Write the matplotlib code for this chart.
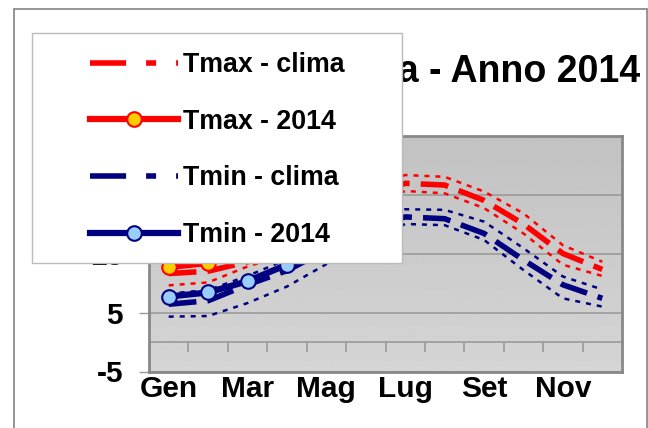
import numpy as np
import matplotlib
matplotlib.use("Agg")
import matplotlib.pyplot as plt
from matplotlib.lines import Line2D
from matplotlib.patches import Rectangle

plt.rcParams['font.family'] = ['Liberation Sans', 'DejaVu Sans']
plt.rcParams['font.weight'] = 'bold'
plt.rcParams['lines.scale_dashes'] = False

# ---------------- data ----------------
months = ['Gen', 'Feb', 'Mar', 'Apr', 'Mag', 'Giu', 'Lug', 'Ago', 'Set', 'Ott', 'Nov', 'Dic']
tick_months = ['Gen', 'Mar', 'Mag', 'Lug', 'Set', 'Nov']

tmax_clima = [11.6, 12.0, 13.6, 16.6, 20.6, 24.5, 26.9, 26.6, 24.0, 20.0, 15.0, 12.3]
tmax_clima_hi = [13.8, 14.2, 15.6, 18.5, 22.5, 26.2, 28.3, 28.0, 25.5, 21.8, 16.4, 13.6]
tmax_clima_lo = [9.6, 10.1, 12.8, 14.8, 18.6, 22.6, 25.6, 25.2, 22.7, 18.4, 13.1, 11.2]
tmax_2014 = [12.7, 13.4, 15.5, 17.8, 21.0]

tmin_clima = [6.4, 7.0, 9.7, 12.1, 15.6, 19.2, 21.2, 20.9, 18.4, 13.9, 9.7, 7.4]
tmin_clima_hi = [8.2, 8.8, 11.2, 14.0, 17.5, 20.8, 22.5, 22.4, 20.4, 15.9, 11.1, 8.9]
tmin_clima_lo = [4.3, 4.4, 6.6, 9.4, 13.2, 17.0, 20.0, 19.8, 17.3, 12.2, 7.4, 6.0]
tmin_2014 = [7.7, 8.4, 10.3, 13.1, 15.4]

yticks = [-5, 5, 15, 25, 35]
labels = ['Tmax - clima', 'Tmax - 2014', 'Tmin - clima', 'Tmin - 2014']
title = 'Temperatura - Anno 2014'
ylab = 'T (°C)'

RED = '#FF0000'
NAVY = '#000080'

# ---------------- figure ----------------
W, H = 648, 428
fig = plt.figure(figsize=(W / 100, H / 100), dpi=100)
fig.patch.set_facecolor('white')

L, R, T, B = 149, 622, 135.5, 371.5
ax = fig.add_axes([L / W, 1 - B / H, (R - L) / W, (B - T) / H])

x = np.arange(1, len(months) + 1)

# background gradient
grad = np.linspace(0.76, 0.835, 256).reshape(-1, 1)
ax.imshow(grad, extent=[0, 1, 0, 1], transform=ax.transAxes, cmap='gray',
          vmin=0, vmax=1, aspect='auto', zorder=0, origin='upper', interpolation='bilinear')

ax.set_xlim(0.5, len(months) + 0.5)
ax.set_ylim(yticks[0], yticks[-1])

ax.yaxis.grid(True, color='#9A9A9A', lw=1.2, zorder=1)
ax.set_axisbelow(True)
ax.axhline(0, color='#9A9A9A', lw=1.2, zorder=1)
bounds = np.arange(1.5, len(months), 1.0)
ax.vlines(bounds, -1.7, 0, color='#9A9A9A', lw=1.2, zorder=1)

thin = dict(lw=1.8, dashes=(3.6, 4.3))
thick = dict(lw=4.0, dashes=(20, 8))

ax.plot(x, tmax_clima_hi, color=RED, zorder=2, **thin)
ax.plot(x, tmax_clima_lo, color=RED, zorder=2, **thin)
ax.plot(x, tmax_clima, color=RED, zorder=3, **thick)
ax.plot(x, tmin_clima_hi, color=NAVY, zorder=2, **thin)
ax.plot(x, tmin_clima_lo, color=NAVY, zorder=2, **thin)
ax.plot(x, tmin_clima, color=NAVY, zorder=3, **thick)

mk = dict(lw=4.5, marker='o', ms=10.5, mew=1.5)
ax.plot(x[:len(tmax_2014)], tmax_2014, color=RED, mfc='#FFCC00', mec=RED, zorder=4, **mk)
ax.plot(x[:len(tmin_2014)], tmin_2014, color=NAVY, mfc='#99CCFF', mec=NAVY, zorder=4, **mk)

ax.set_yticks(yticks)
ax.set_yticklabels([str(v) for v in yticks])
ax.tick_params(axis='y', length=7.2, width=1.0, color='#9A9A9A', pad=11.5, labelsize=21.5)
ax.set_xticks([x[months.index(m)] for m in tick_months])
ax.set_xticklabels(tick_months)
ax.tick_params(axis='x', length=0, pad=2.5, labelsize=21.5)
for lab in ax.get_xticklabels() + ax.get_yticklabels():
    lab.set_fontweight('bold')

for s in ax.spines.values():
    s.set_color('#888888')
    s.set_linewidth(2.0)

# outer chart frame
fig.patches.append(Rectangle((14 / W, -0.2), (646.7 - 14) / W, 1.2 - 9.3 / H,
                             transform=fig.transFigure, fill=False,
                             edgecolor='#8C8C8C', lw=1.3, zorder=1))

# title and axis label (partly hidden by the legend)
fig.text(640 / W, 1 - 81.7 / H, title, ha='right', va='baseline',
         fontsize=27, fontweight='bold', zorder=3)
fig.text(51 / W, 1 - 156 / H, ylab, rotation=90, ha='center', va='center',
         fontsize=22, fontweight='bold', zorder=3)

# legend box
fig.patches.append(Rectangle((31.7 / W, 1 - 263.3 / H), (402.5 - 31.7) / W, (263.3 - 33.3) / H,
                             transform=fig.transFigure, facecolor='white',
                             edgecolor='#BBBBBB', lw=1.0, zorder=4))

h1 = Line2D([], [], color=RED, lw=4.0, dashes=(26, 14.4, 7.2, 14.4))
h2 = Line2D([], [], color=RED, mfc='#FFCC00', mec=RED, **mk)
h3 = Line2D([], [], color=NAVY, lw=4.0, dashes=(26, 14.4, 7.2, 14.4))
h4 = Line2D([], [], color=NAVY, mfc='#99CCFF', mec=NAVY, **mk)
leg = fig.legend([h1, h2, h3, h4], labels, loc='upper left',
                 bbox_to_anchor=(90 / W, 1 - 52 / H), frameon=False,
                 prop={'size': 19.3, 'weight': 'bold'}, handlelength=3.3,
                 handletextpad=0.16, labelspacing=1.145, borderpad=0,
                 borderaxespad=0, numpoints=1)
leg.set_zorder(5)

fig.savefig('out.png', dpi=100, facecolor='white')
